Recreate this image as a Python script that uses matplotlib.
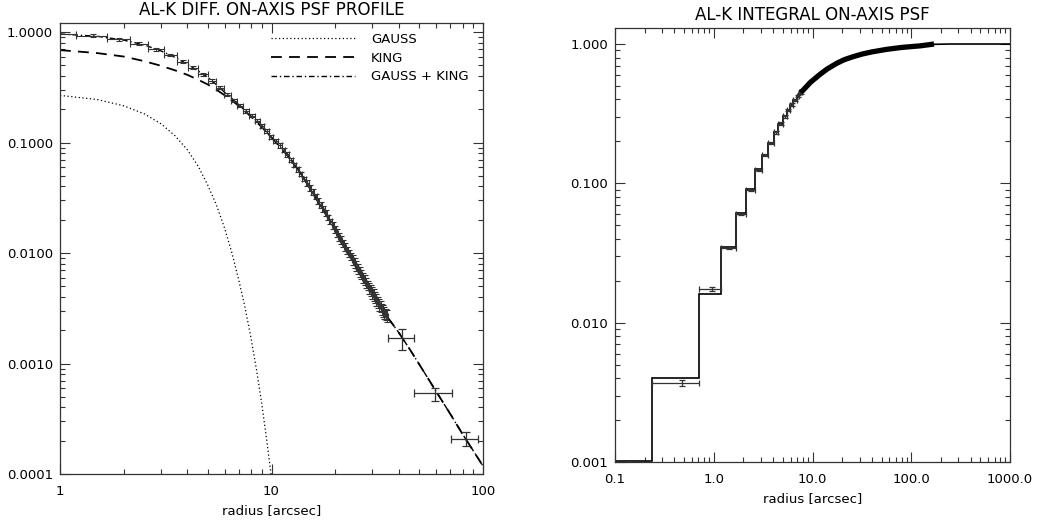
import matplotlib
matplotlib.use("Agg")
import matplotlib.pyplot as plt
from matplotlib.ticker import LogLocator, FixedLocator, FixedFormatter, NullFormatter
import numpy as np

plt.rcParams['font.family'] = ['DejaVu Sans']
plt.rcParams['font.size'] = 9.5

# ---- left panel: differential profile ----
diff_r = [0.95, 1.425, 1.9, 2.375, 2.85, 3.325, 3.8, 4.275, 4.75, 5.225,
          5.7, 6.175, 6.65, 7.125, 7.6, 8.075, 8.55, 9.025, 9.5, 9.975,
          10.45, 10.925, 11.4, 11.875, 12.35, 12.825, 13.3, 13.775, 14.25, 14.725,
          15.2, 15.675, 16.15, 16.625, 17.1, 17.575, 18.05, 18.525, 19.0, 19.475,
          19.95, 20.425, 20.9, 21.375, 21.85, 22.325, 22.8, 23.275, 23.75, 24.225,
          24.7, 25.175, 25.65, 26.125, 26.6, 27.075, 27.55, 28.025, 28.5, 28.975,
          29.45, 29.925, 30.4, 30.875, 31.35, 31.825, 32.3, 32.775, 33.25, 33.725,
          34.2, 34.675, 35.15]
diff_v = [0.965, 0.925, 0.858, 0.785, 0.70, 0.62, 0.54, 0.475, 0.415, 0.36,
          0.313, 0.272, 0.24, 0.215, 0.193, 0.175, 0.158, 0.141, 0.127, 0.113,
          0.103, 0.094, 0.086, 0.078, 0.070, 0.063, 0.057, 0.052, 0.047, 0.043,
          0.039, 0.0355, 0.0325, 0.0297, 0.0272, 0.025, 0.0229, 0.021, 0.0193, 0.0178,
          0.0164, 0.0152, 0.0141, 0.0131, 0.0122, 0.0114, 0.0106, 0.0099, 0.0093, 0.0087,
          0.0082, 0.0077, 0.0072, 0.0068, 0.0064, 0.0060, 0.0057, 0.0054, 0.0051, 0.0048,
          0.0046, 0.0044, 0.0042, 0.0040, 0.0038, 0.0036, 0.0034, 0.0033, 0.0031, 0.0030,
          0.0029, 0.0028, 0.0027]
diff_relerr = [0.03, 0.03, 0.03, 0.03, 0.03, 0.03, 0.03, 0.03, 0.03, 0.035,
               0.035, 0.035, 0.035, 0.035, 0.035, 0.035, 0.035, 0.035, 0.035, 0.045,
               0.045, 0.045, 0.045, 0.045, 0.045, 0.045, 0.045, 0.045, 0.045, 0.06,
               0.06, 0.06, 0.06, 0.06, 0.06, 0.06, 0.06, 0.06, 0.06, 0.08,
               0.08, 0.08, 0.08, 0.08, 0.08, 0.08, 0.08, 0.08, 0.08, 0.10,
               0.10, 0.10, 0.10, 0.10, 0.10, 0.10, 0.10, 0.10, 0.10, 0.12,
               0.12, 0.12, 0.12, 0.12, 0.12, 0.12, 0.12, 0.12, 0.12, 0.12,
               0.12, 0.12, 0.12]
bin_half = 0.2375

# outer, wide bins
outer_r = [41.4, 59.15, 82.85]
outer_v = [0.00171, 0.00054, 0.000208]
outer_rlo = [35.6, 47.3, 70.7]
outer_rhi = [47.3, 71.0, 95.0]
outer_vlo = [0.00133, 0.00046, 0.000178]
outer_vhi = [0.00204, 0.00060, 0.000240]

gauss_r = [1.0, 1.5, 2.0, 2.5, 3.0, 3.5, 4.0, 4.5, 5.0, 5.5, 6.0, 6.5, 7.0,
           7.5, 8.0, 8.5, 9.0, 9.5, 10.0]
gauss_v = [0.267, 0.245, 0.215, 0.182, 0.148, 0.115, 0.086, 0.061, 0.041, 0.027,
           0.0168, 0.0100, 0.0057, 0.0032, 0.00170, 0.00087, 0.00043, 0.00020, 0.000092]

king_r = [1.0, 1.5, 2.0, 2.5, 3.0, 3.5, 4.0, 4.5, 5.0, 5.5, 6.0, 6.5, 7.0, 8.0, 9.0,
          10.0, 11.0, 12.0, 13.0, 14.0, 15.0, 17.0, 19.0, 21.0, 23.0, 25.0, 28.0,
          31.0, 35.0, 40.0, 45.0, 50.0, 60.0, 70.0, 80.0, 90.0, 100.0]
king_v = [0.686, 0.645, 0.60, 0.545, 0.495, 0.45, 0.41, 0.37, 0.335, 0.30, 0.268,
          0.24, 0.215, 0.172, 0.138, 0.111, 0.091, 0.075, 0.061, 0.050, 0.040, 0.027,
          0.0192, 0.0138, 0.0102, 0.0078, 0.0054, 0.0039, 0.0027, 0.0019, 0.00135,
          0.00098, 0.00056, 0.00035, 0.00023, 0.000162, 0.000118]

total_r = [1.0, 1.5, 2.0, 2.5, 3.0, 3.5, 4.0, 4.5, 5.0, 5.5, 6.0, 6.5, 7.0, 8.0, 9.0,
           10.0, 11.0, 12.0, 13.0, 14.0, 15.0, 17.0, 19.0, 21.0, 23.0, 25.0, 28.0,
           31.0, 35.0, 40.0, 45.0, 50.0, 60.0, 70.0, 80.0, 90.0, 100.0]
total_v = [0.96, 0.915, 0.845, 0.765, 0.675, 0.59, 0.51, 0.445, 0.39, 0.333, 0.285,
           0.25, 0.221, 0.172, 0.138, 0.111, 0.091, 0.075, 0.061, 0.050, 0.040, 0.027,
           0.0192, 0.0138, 0.0102, 0.0078, 0.0054, 0.0039, 0.0027, 0.0019, 0.00135,
           0.00098, 0.00056, 0.00035, 0.00023, 0.000162, 0.000118]

# ---- right panel: integral profile ----
int_r = [0.475, 0.95, 1.425, 1.9, 2.375, 2.85, 3.325, 3.8, 4.275, 4.75,
         5.225, 5.7, 6.175, 6.65, 7.125, 7.6]
int_v = [0.0037, 0.0175, 0.0345, 0.0605, 0.090, 0.125, 0.160, 0.195, 0.232, 0.268,
         0.302, 0.336, 0.368, 0.397, 0.424, 0.449]
int_relerr = [0.055, 0.035, 0.02, 0.02, 0.02, 0.02, 0.02, 0.02, 0.02, 0.02,
              0.02, 0.02, 0.02, 0.02, 0.02, 0.02]

step_edges = [0.1, 0.2375, 0.7125, 1.1875, 1.6625, 2.1375, 2.6125, 3.0875, 3.5625,
              4.0375, 4.5125, 4.9875, 5.4625, 5.9375, 6.4125, 6.8875, 7.3625, 7.8375]
step_v = [0.00101, 0.0040, 0.0161, 0.0347, 0.0610, 0.0906, 0.126, 0.161, 0.195, 0.233,
          0.267, 0.303, 0.338, 0.367, 0.395, 0.422, 0.447]

model_r = [7.8375, 9.5, 11.9, 14.0, 17.6, 21.0, 25.9, 32.0, 40.0, 56.6, 80.0, 100.0,
           123.0, 150.0, 170.0, 250.0, 400.0, 1000.0]
model_v = [0.455, 0.53, 0.605, 0.66, 0.727, 0.772, 0.812, 0.848, 0.878, 0.916, 0.945,
           0.958, 0.968, 0.985, 0.995, 1.0, 1.0, 1.0]

band_r = [7.6, 8.1, 9.5, 11.9, 14.0, 17.6, 21.0, 25.9, 32.0, 40.0, 56.6, 80.0,
          100.0, 123.0, 150.0, 170.0]
band_v = [0.449, 0.469, 0.53, 0.605, 0.66, 0.727, 0.772, 0.812, 0.848, 0.878, 0.916,
          0.945, 0.958, 0.97, 0.988, 1.0]

W, H = 1049, 521
fig = plt.figure(figsize=(W / 100, H / 100), dpi=100)
ax1 = fig.add_axes([60 / W, 1 - 474 / H, 423 / W, 451 / H])
ax2 = fig.add_axes([615 / W, 1 - 462 / H, 395 / W, 434 / H])

ecol = '0.2'

# left
dr = np.array(diff_r)
dv = np.array(diff_v)
ax1.errorbar(dr, dv, xerr=bin_half, yerr=dv * np.array(diff_relerr), fmt='none',
             ecolor=ecol, elinewidth=0.8, capsize=2, capthick=0.8, zorder=3)
ov = np.array(outer_v)
orr = np.array(outer_r)
ax1.errorbar(orr, ov, xerr=[orr - np.array(outer_rlo), np.array(outer_rhi) - orr],
             yerr=[ov - np.array(outer_vlo), np.array(outer_vhi) - ov], fmt='none',
             ecolor=ecol, elinewidth=0.9, capsize=3, capthick=0.9, zorder=3)
ax1.plot(gauss_r, gauss_v, color='k', lw=0.9, ls=(0, (1, 2)), label='GAUSS')
ax1.plot(king_r, king_v, color='k', lw=1.3, ls=(0, (6, 4)), label='KING')
ax1.plot(total_r, total_v, color='k', lw=1.0, ls=(0, (4, 2, 1, 2)), label='GAUSS + KING')

ax1.set_xscale('log')
ax1.set_yscale('log')
ax1.set_xlim(1, 100)
ax1.set_ylim(1e-4, 1.207)
ax1.xaxis.set_major_locator(FixedLocator([1, 10, 100]))
ax1.xaxis.set_major_formatter(FixedFormatter(['1', '10', '100']))
ax1.yaxis.set_major_locator(FixedLocator([1e-4, 1e-3, 1e-2, 1e-1, 1]))
ax1.yaxis.set_major_formatter(FixedFormatter(['0.0001', '0.0010', '0.0100', '0.1000', '1.0000']))
ax1.set_title('AL-K DIFF. ON-AXIS PSF PROFILE', fontsize=12, pad=6)
ax1.set_xlabel('radius [arcsec]', labelpad=4)
ax1.legend(loc='upper left', bbox_to_anchor=(0.47, 1.005), frameon=False,
           handlelength=6.4, handletextpad=1.2, labelspacing=0.45, fontsize=9.5)

# right
ax2.stairs(step_v, step_edges, color='k', lw=1.2, baseline=None, zorder=2)
ax2.plot(model_r, model_v, color='k', lw=1.2, zorder=2)
ir = np.array(int_r)
iv = np.array(int_v)
ax2.errorbar(ir, iv, xerr=bin_half, yerr=iv * np.array(int_relerr), fmt='none',
             ecolor=ecol, elinewidth=0.9, capsize=2, capthick=0.9, zorder=3)
ax2.plot(band_r, band_v, color='k', lw=3.8, solid_capstyle='butt', zorder=3)

ax2.set_xscale('log')
ax2.set_yscale('log')
ax2.set_xlim(0.1, 1000)
ax2.set_ylim(1e-3, 1.303)
ax2.xaxis.set_major_locator(FixedLocator([0.1, 1, 10, 100, 1000]))
ax2.xaxis.set_major_formatter(FixedFormatter(['0.1', '1.0', '10.0', '100.0', '1000.0']))
ax2.yaxis.set_major_locator(FixedLocator([1e-3, 1e-2, 1e-1, 1]))
ax2.yaxis.set_major_formatter(FixedFormatter(['0.001', '0.010', '0.100', '1.000']))
ax2.set_title('AL-K INTEGRAL ON-AXIS PSF', fontsize=12, pad=6)
ax2.set_xlabel('radius [arcsec]', labelpad=4)

for ax in (ax1, ax2):
    ax.xaxis.set_minor_locator(LogLocator(base=10, subs=np.arange(2, 10), numticks=20))
    ax.yaxis.set_minor_locator(LogLocator(base=10, subs=np.arange(2, 10), numticks=20))
    ax.xaxis.set_minor_formatter(NullFormatter())
    ax.yaxis.set_minor_formatter(NullFormatter())
    ax.tick_params(which='both', direction='in', top=True, right=True, width=0.8, color='0.2')
    ax.tick_params(which='major', length=7)
    ax.tick_params(which='minor', length=3.5)
    ax.tick_params(axis='x', which='major', pad=8)
    ax.tick_params(axis='y', which='major', pad=5)
    for s in ax.spines.values():
        s.set_linewidth(0.9)
        s.set_color('0.2')

fig.savefig('out.png', dpi=100)
